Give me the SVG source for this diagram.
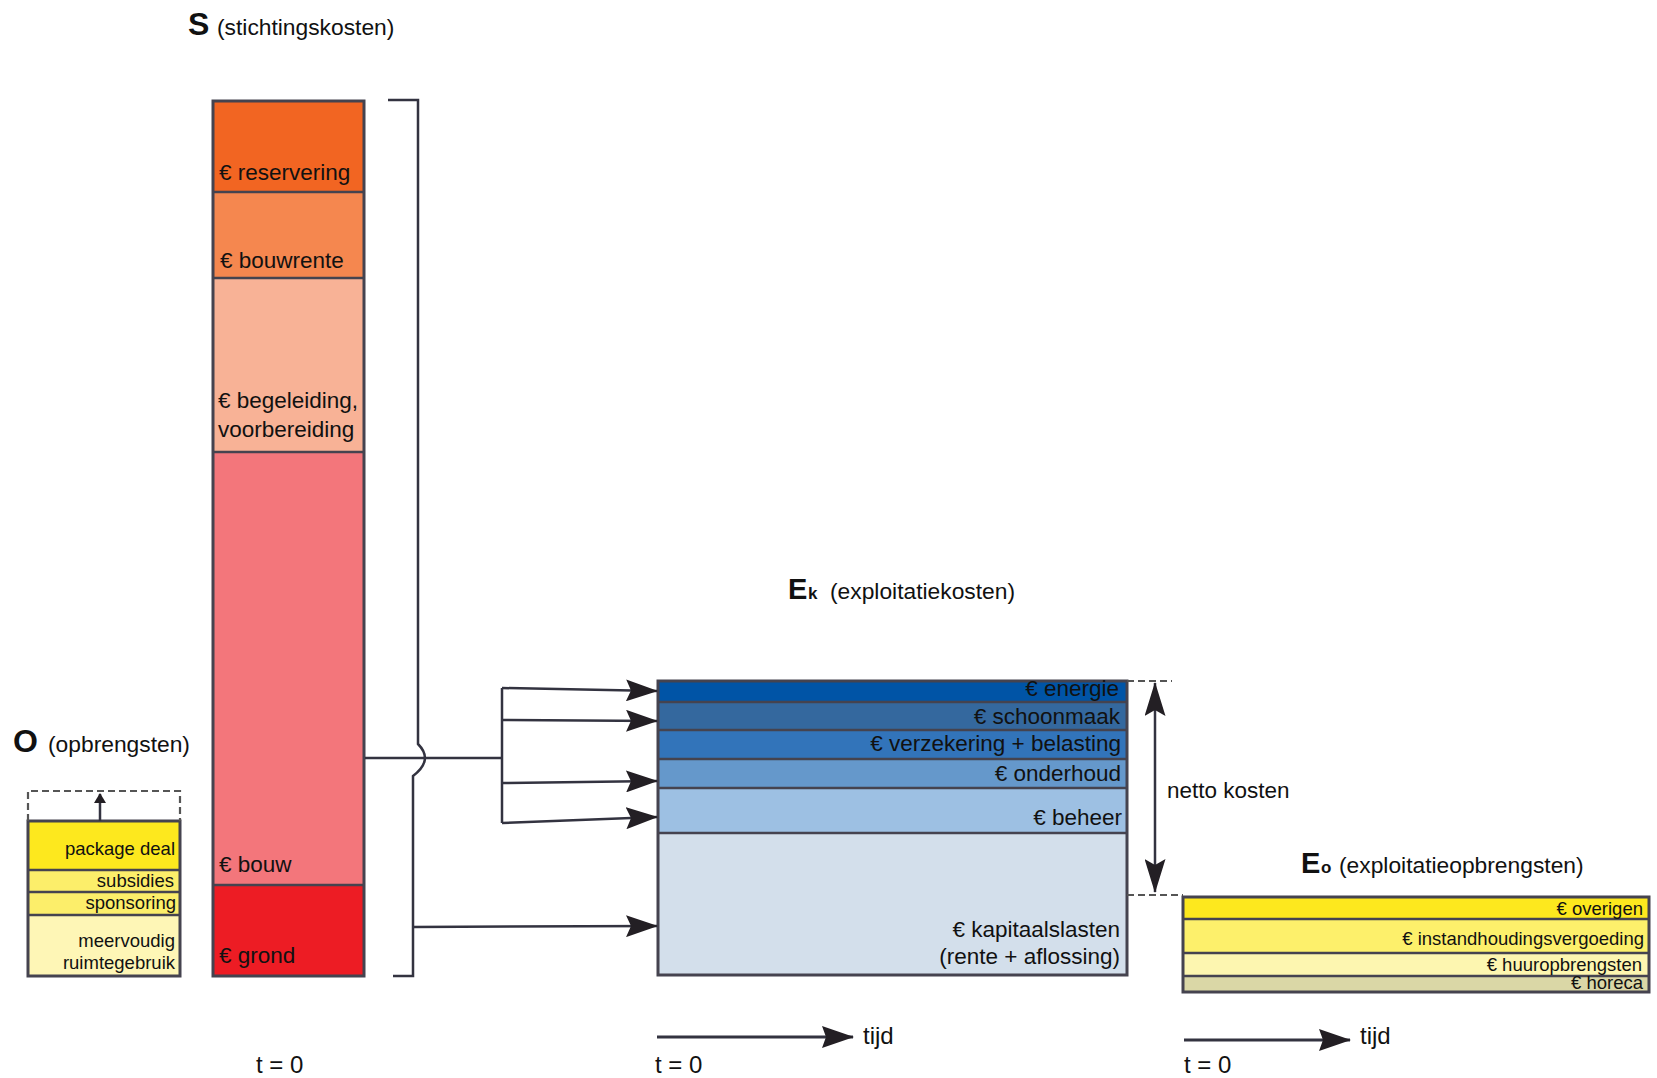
<svg xmlns="http://www.w3.org/2000/svg" width="1657" height="1078" viewBox="0 0 1657 1078">
<style>
text{font-family:"Liberation Sans",Arial,sans-serif;fill:#111}
.lbl{font-size:22.5px}
.sm{font-size:18.5px}
.hd{font-size:22.8px}
.big{font-size:32px;font-weight:bold}
.eb{font-size:29px;font-weight:bold}
.sub{font-size:17px;font-weight:bold}
.ax{font-size:24px}
.seg{stroke:none}
.div{stroke:#45434f;stroke-width:2.5;fill:none}
.box{stroke:#45434f;stroke-width:3;fill:none}
.ln{stroke:#333340;stroke-width:2.5;fill:none}
.dash{stroke:#555;stroke-width:2.2;fill:none;stroke-dasharray:7 4}
</style>
<defs>
<marker id="ah" markerUnits="userSpaceOnUse" viewBox="0 0 32 22" markerWidth="32" markerHeight="22" refX="31" refY="11" orient="auto">
<path d="M0,0 L32,11 L0,22 L5,11 z" fill="#231f24"/>
</marker>
<marker id="ahb" markerUnits="userSpaceOnUse" viewBox="0 0 34 21" markerWidth="34" markerHeight="21" refX="33" refY="10.5" orient="auto-start-reverse">
<path d="M0,0 L34,10.5 L0,21 L6,10.5 z" fill="#231f24"/>
</marker>
<marker id="aht" markerUnits="userSpaceOnUse" viewBox="0 0 32 22" markerWidth="32" markerHeight="22" refX="31" refY="11" orient="auto">
<path d="M0,0 L32,11 L0,22 L4,11 z" fill="#231f24"/>
</marker>
<marker id="ahs" markerUnits="userSpaceOnUse" viewBox="0 0 10 12" markerWidth="10" markerHeight="12" refX="9" refY="6" orient="auto">
<path d="M0,0 L10,6 L0,12 z" fill="#231f24"/>
</marker>
</defs>
<rect x="0" y="0" width="1657" height="1078" fill="#ffffff"/>

<g id="node-S">
<text x="188" y="35" class="big">S</text>
<text x="217" y="35" class="hd">(stichtingskosten)</text>
<rect class="seg" x="213" y="101" width="151" height="91" fill="#f26522"/>
<rect class="seg" x="213" y="192" width="151" height="86" fill="#f5874f"/>
<rect class="seg" x="213" y="278" width="151" height="174" fill="#f8b296"/>
<rect class="seg" x="213" y="452" width="151" height="433" fill="#f3767b"/>
<rect class="seg" x="213" y="885" width="151" height="91" fill="#ed1c24"/>
<path class="div" d="M213,192 H364 M213,278 H364 M213,452 H364 M213,885 H364"/>
<rect class="box" x="213" y="101" width="151" height="875"/>
<text x="219" y="180" class="lbl">€ reservering</text>
<text x="220" y="268" class="lbl">€ bouwrente</text>
<text x="218" y="408" class="lbl">€ begeleiding,</text>
<text x="218" y="437" class="lbl">voorbereiding</text>
<text x="219" y="872" class="lbl">€ bouw</text>
<text x="219" y="963" class="lbl">€ grond</text>
</g>

<g id="node-O">
<text x="13" y="752" class="big">O</text>
<text x="48" y="752" class="hd">(opbrengsten)</text>
<rect class="seg" x="28" y="821" width="152" height="49" fill="#fde81e"/>
<rect class="seg" x="28" y="870" width="152" height="45" fill="#fcee6a"/>
<rect class="seg" x="28" y="915" width="152" height="61" fill="#fef6b6"/>
<path class="div" d="M28,870 H180 M28,892 H180 M28,915 H180"/>
<rect class="box" x="28" y="821" width="152" height="155"/>
<path class="dash" d="M28,821 V791 H180 V821"/>
<path class="ln" d="M100,821 V794" marker-end="url(#ahs)"/>
<text x="175" y="855" class="sm" text-anchor="end">package deal</text>
<text x="174" y="887" class="sm" text-anchor="end">subsidies</text>
<text x="176" y="909" class="sm" text-anchor="end">sponsoring</text>
<text x="175" y="947" class="sm" text-anchor="end">meervoudig</text>
<text x="175" y="969" class="sm" text-anchor="end">ruimtegebruik</text>
</g>

<g id="node-Ek">
<text x="788" y="599" class="eb">E</text>
<text x="808" y="599" class="sub">k</text>
<text x="830" y="599" class="hd">(exploitatiekosten)</text>
<rect class="seg" x="658" y="681" width="469" height="21" fill="#0054a6"/>
<rect class="seg" x="658" y="702" width="469" height="28" fill="#34689e"/>
<rect class="seg" x="658" y="730" width="469" height="29" fill="#3274ba"/>
<rect class="seg" x="658" y="759" width="469" height="29" fill="#6598cb"/>
<rect class="seg" x="658" y="788" width="469" height="45" fill="#9dc0e3"/>
<rect class="seg" x="658" y="833" width="469" height="142" fill="#d3dfeb"/>
<path class="div" d="M658,702 H1127 M658,730 H1127 M658,759 H1127 M658,788 H1127 M658,833 H1127"/>
<rect class="box" x="658" y="681" width="469" height="294"/>
<text x="1119" y="696" class="lbl" text-anchor="end">€ energie</text>
<text x="1120" y="724" class="lbl" text-anchor="end">€ schoonmaak</text>
<text x="1121" y="751" class="lbl" text-anchor="end">€ verzekering + belasting</text>
<text x="1121" y="781" class="lbl" text-anchor="end">€ onderhoud</text>
<text x="1122" y="825" class="lbl" text-anchor="end">€ beheer</text>
<text x="1120" y="937" class="lbl" text-anchor="end">€ kapitaalslasten</text>
<text x="1120" y="964" class="lbl" text-anchor="end">(rente + aflossing)</text>
</g>

<g id="node-netto">
<path class="dash" d="M1127,681 H1172"/>
<path class="dash" d="M1127,895 H1183"/>
<path class="ln" d="M1155,683 V892" marker-start="url(#ahb)" marker-end="url(#ahb)"/>
<text x="1167" y="798" class="lbl">netto kosten</text>
</g>

<g id="node-Eo">
<text x="1301" y="873" class="eb">E</text>
<text x="1321" y="873" class="sub">o</text>
<text x="1339" y="873" class="hd">(exploitatieopbrengsten)</text>
<rect class="seg" x="1183" y="897" width="466" height="22" fill="#fde81e"/>
<rect class="seg" x="1183" y="919" width="466" height="34" fill="#fdf06b"/>
<rect class="seg" x="1183" y="953" width="466" height="23" fill="#fdf6b0"/>
<rect class="seg" x="1183" y="976" width="466" height="16" fill="#dad7a6"/>
<path class="div" d="M1183,919 H1649 M1183,953 H1649 M1183,976 H1649"/>
<rect class="box" x="1183" y="897" width="466" height="95"/>
<text x="1643" y="915" class="sm" text-anchor="end">€ overigen</text>
<text x="1644" y="945" class="sm" text-anchor="end">€ instandhoudingsvergoeding</text>
<text x="1642" y="971" class="sm" text-anchor="end">€ huuropbrengsten</text>
<text x="1643" y="989" class="sm" text-anchor="end">€ horeca</text>
</g>

<g id="connectors">
<path class="ln" d="M388,100 H418 V744 Q434,760 413,776 V976 H393"/>
<path class="ln" d="M365,758 H502"/>
<path class="ln" d="M502,688 V823"/>
<path class="ln" d="M502,688 L657,691" marker-end="url(#ah)"/>
<path class="ln" d="M502,720 L657,721" marker-end="url(#ah)"/>
<path class="ln" d="M502,783 L657,781" marker-end="url(#ah)"/>
<path class="ln" d="M502,823 L657,817" marker-end="url(#ah)"/>
<path class="ln" d="M413,927 L657,926" marker-end="url(#ah)"/>
</g>

<g id="time-axes">
<path class="ln" style="stroke-width:3" d="M657,1037 H853" marker-end="url(#aht)"/>
<text x="863" y="1044" class="ax">tijd</text>
<path class="ln" style="stroke-width:3" d="M1184,1040 H1350" marker-end="url(#aht)"/>
<text x="1360" y="1044" class="ax">tijd</text>
<text x="256" y="1073" class="ax">t = 0</text>
<text x="655" y="1073" class="ax">t = 0</text>
<text x="1184" y="1073" class="ax">t = 0</text>
</g>
</svg>
